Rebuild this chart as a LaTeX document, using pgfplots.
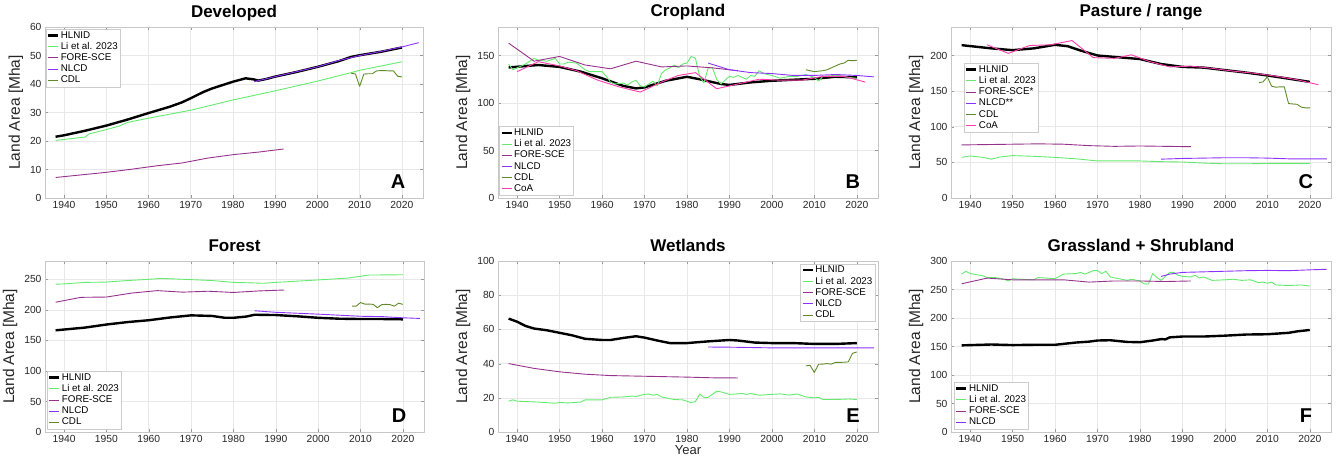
\documentclass[border=0pt]{standalone}
\usepackage{pgfplots}
\pgfplotsset{compat=1.18}
\usepackage{fontspec}
\setmainfont{Liberation Sans}

\definecolor{li}{RGB}{100,235,110}
\definecolor{fore}{RGB}{150,50,140}
\definecolor{nlcd}{RGB}{140,50,255}
\definecolor{cdl}{RGB}{95,140,40}
\definecolor{coa}{RGB}{255,60,170}

\pgfplotsset{
  panel/.style={
    scale only axis, width=379pt, height=171pt, anchor=south west,
    xmin=1935.5, xmax=2025, xtick={1940,1950,...,2020},
    grid=major, grid style={color=black!9, line width=0.5pt},
    axis line style={color=black!22},
    tick style={color=black!40}, tick align=inside, major tick length=3pt,
    ticklabel style={font=\fontsize{10.3}{12}\selectfont, text=black!85},
    /pgf/number format/assume math mode=true,
    /pgf/number format/1000 sep={},
    ylabel={Land Area [Mha]},
    ylabel style={font=\fontsize{15.5}{18}\selectfont, text=black!85},
    title style={font=\bfseries\fontsize{17}{20}\selectfont, at={(axis description cs:0.5,1)}, anchor=base, yshift=4pt},
    legend style={font=\fontsize{9.8}{11}\selectfont, draw=black!20, inner xsep=1pt, inner ysep=1pt,
      nodes={inner sep=1.4pt, text depth=0.15em}},
    legend cell align=left,
    legend image code/.code={\draw[#1] (0pt,0pt) -- (10pt,0pt);},
    every axis plot/.append style={line width=0.9pt, line join=round},
  },
}
\newcommand{\panellabel}[1]{\node[font=\bfseries\fontsize{20}{22}\selectfont] at (rel axis cs:0.934,0.094) {#1};}

\begin{document}
\begin{tikzpicture}
\useasboundingbox (0,0) rectangle (1338pt,461pt);

% A Developed
\begin{axis}[panel, at={(45pt,263pt)}, width=378pt, title={Developed}, ymin=0, ymax=60, ytick={0,10,...,60},
  legend style={at={(axis description cs:0.002,0.99)}, anchor=north west}]
\addplot[black, line width=2.4pt] coordinates {(1938,21.5)(1940,22)(1945,23.6)(1950,25.4)(1955,27.5)(1960,29.8)(1965,32)(1968,33.6)(1970,35)(1973,37.2)(1975,38.4)(1980,40.8)(1983,42)(1985,41.6)(1986,41.2)(1988,41.8)(1990,42.6)(1995,44.2)(2000,46)(2005,48)(2008,49.5)(2010,50.1)(2015,51.3)(2020,52.8)};
\addlegendentry{HLNID}
\addplot[li] coordinates {(1938,20.2)(1945,21.4)(1946,22.5)(1950,24)(1953,25.2)(1955,26.5)(1960,28)(1970,30.8)(1980,34.4)(1985,36)(1990,37.6)(2000,41)(2008,44)(2010,44.8)(2020,47.8)};
\addlegendentry{Li et al. 2023}
\addplot[fore] coordinates {(1938,7.2)(1944,8.1)(1950,9.0)(1956,10.1)(1962,11.3)(1968,12.3)(1974,14)(1980,15.2)(1986,16.1)(1992,17.2)};
\addlegendentry{FORE-SCE}
\addplot[nlcd] coordinates {(1985,40.8)(1990,42.6)(2000,46)(2005,48.2)(2010,50)(2015,51.4)(2020,53)(2024,54.5)};
\addlegendentry{NLCD}
\addplot[cdl] coordinates {(2008,43.8)(2009,43.5)(2010,39.2)(2011,43.5)(2012,43.6)(2013,43.6)(2014,44.6)(2015,44.7)(2016,44.7)(2017,44.6)(2018,44.6)(2019,42.7)(2020,42.5)};
\addlegendentry{CDL}
\panellabel{A}
\end{axis}

% B Cropland
\begin{axis}[panel, at={(498pt,263pt)}, width=380pt, title={Cropland}, ymin=0, ymax=180, ytick={0,50,100,150},
  legend style={at={(axis description cs:0.003,0.015)}, anchor=south west}]
\addplot[black, line width=2.4pt] coordinates {(1938,137.4)(1945,140)(1950,138)(1955,133)(1960,126)(1965,118)(1968,115.4)(1970,116.4)(1975,123.4)(1980,127.6)(1983,125)(1988,120)(1990,119)(1995,121.7)(2000,123.4)(2010,125.5)(2015,127.6)(2020,127)};
\addlegendentry{HLNID}
\addplot[li] coordinates {(1938,141)(1939,135)(1940,137)(1942,141)(1944,147)(1945,145)(1947,144)(1949,147)(1950,141)(1951,141)(1952,143)(1954,142)(1956,135)(1957,133)(1960,133)(1961,128)(1962,122)(1963,120)(1965,121)(1966,119)(1967,122)(1968,124)(1969,118)(1970,117)(1971,120)(1972,123)(1973,118)(1974,131)(1975,135)(1976,137)(1977,140)(1978,137)(1979,141)(1980,142)(1981,149)(1982,147)(1983,128)(1984,121)(1985,137)(1986,137)(1987,125)(1988,120)(1989,124)(1990,128)(1991,127)(1992,129)(1993,127)(1994,125)(1995,129)(1996,128)(1997,134)(1998,131)(2000,129)(2002,126)(2004,128)(2006,128)(2008,130)(2010,127)(2011,123)(2012,128)(2015,129)(2018,127)(2020,126)};
\addlegendentry{Li et al. 2023}
\addplot[fore] coordinates {(1938,163)(1944,144)(1950,149)(1956,140)(1962,136)(1968,144)(1974,138)(1980,139)(1986,137)(1992,134)};
\addlegendentry{FORE-SCE}
\addplot[nlcd] coordinates {(1985,142)(1990,135)(1995,132)(2000,131)(2005,129)(2010,129)(2015,130)(2020,129)(2024,127.5)};
\addlegendentry{NLCD}
\addplot[cdl] coordinates {(2008,135)(2010,133)(2012,134)(2013,135)(2014,137)(2015,139)(2016,141)(2017,142)(2018,145)(2019,144.5)(2020,145)};
\addlegendentry{CDL}
\addplot[coa] coordinates {(1940,133)(1945,143.5)(1950,139)(1954,134)(1959,124)(1964,117)(1969,111.5)(1974,122)(1978,129)(1982,132)(1987,115)(1992,120)(1997,125)(2002,124)(2007,124)(2012,128)(2017,128)(2022,122)};
\addlegendentry{CoA}
\panellabel{B}
\end{axis}

% C Pasture / range
\begin{axis}[panel, at={(951pt,263pt)}, width=380pt, title={Pasture / range}, ymin=0, ymax=240, ytick={0,50,...,200},
  legend style={at={(axis description cs:0.034,0.79)}, anchor=north west}]
\addplot[black, line width=2.4pt] coordinates {(1938,214.5)(1945,210)(1950,207.5)(1955,210)(1960,215)(1963,213)(1966,207)(1970,200)(1975,197.5)(1980,195)(1985,188)(1990,184)(1995,183)(2000,179.5)(2005,176)(2010,172)(2015,167.5)(2020,163)};
\addlegendentry{HLNID}
\addplot[li] coordinates {(1938,57)(1940,59)(1943,57)(1945,54.5)(1947,57.5)(1950,59.5)(1955,58.5)(1960,57)(1965,55)(1970,52)(1975,52)(1980,52)(1985,51)(1990,50.5)(1995,49)(2000,48)(2005,48)(2010,48.5)(2015,48.5)(2020,48.5)};
\addlegendentry{Li et al. 2023}
\addplot[fore] coordinates {(1938,74.5)(1944,75)(1950,75.5)(1956,76)(1962,75.5)(1968,73.5)(1974,72.5)(1980,73)(1986,72.5)(1992,72)};
\addlegendentry{FORE-SCE*}
\addplot[nlcd] coordinates {(1985,54.5)(1990,55.5)(2000,56.5)(2005,56.5)(2010,56)(2015,55)(2020,55)(2024,55)};
\addlegendentry{NLCD**}
\addplot[cdl] coordinates {(2008,162)(2009,163)(2010,170)(2011,157)(2012,155.5)(2013,156)(2014,156)(2015,132.5)(2016,132)(2017,131.5)(2018,127.5)(2019,126.5)(2020,126.5)};
\addlegendentry{CDL}
\addplot[coa] coordinates {(1944,215)(1949,203)(1954,214)(1959,215)(1964,221)(1969,197)(1974,196)(1978,201)(1982,192)(1987,184)(1992,185)(1997,182)(2002,178)(2007,175)(2012,171)(2017,166)(2022,159)};
\addlegendentry{CoA}
\panellabel{C}
\end{axis}

% D Forest
\begin{axis}[panel, at={(45pt,29pt)}, width=379pt, title={Forest}, ymin=0, ymax=280, ytick={0,50,...,250},
  legend style={at={(axis description cs:0.005,0.017)}, anchor=south west}]
\addplot[black, line width=2.4pt] coordinates {(1938,166.5)(1945,171)(1950,176)(1955,180)(1960,183)(1965,187.5)(1970,191)(1975,190)(1978,187)(1980,187)(1983,189)(1985,192)(1990,191.5)(1995,189.5)(2000,187)(2005,185.5)(2010,185)(2015,185)(2020,184.5)};
\addlegendentry{HLNID}
\addplot[li] coordinates {(1938,242)(1940,242.5)(1945,245)(1950,245.5)(1955,248)(1960,250)(1963,251.5)(1970,249.5)(1975,248)(1980,245)(1985,244)(1987,243.5)(1990,245)(2000,249)(2007,252)(2012,257)(2020,257.5)};
\addlegendentry{Li et al. 2023}
\addplot[fore] coordinates {(1938,212.5)(1944,220.5)(1950,221)(1956,227.5)(1962,231.5)(1968,229)(1974,230.5)(1980,228.5)(1986,231)(1992,232.5)};
\addlegendentry{FORE-SCE}
\addplot[nlcd] coordinates {(1985,198.5)(1990,196)(2000,193)(2010,189.5)(2015,189)(2020,187)(2024,186)};
\addlegendentry{NLCD}
\addplot[cdl] coordinates {(2008,206)(2009,206)(2010,212)(2011,209.5)(2012,209.5)(2013,209)(2014,203.5)(2015,208.5)(2016,209)(2017,208.5)(2018,206)(2019,211)(2020,209)};
\addlegendentry{CDL}
\panellabel{D}
\end{axis}

% E Wetlands
\begin{axis}[panel, at={(498pt,29pt)}, width=380pt, title={Wetlands}, ymin=0, ymax=100, ytick={0,20,...,100},
  xlabel={Year}, xlabel style={font=\fontsize{13}{15}\selectfont, text=black!85, yshift=4pt},
  legend style={at={(axis description cs:0.992,0.985)}, anchor=north east}]
\addplot[black, line width=2.4pt] coordinates {(1938,66.3)(1940,64.5)(1942,62)(1944,60.5)(1947,59.5)(1950,58)(1953,56.5)(1956,54.5)(1960,53.8)(1962,53.8)(1965,55)(1968,56)(1970,55.2)(1973,53.5)(1976,52)(1980,52)(1985,53)(1990,53.8)(1992,53.5)(1996,52.3)(2000,52)(2005,52)(2010,51.5)(2015,51.5)(2020,52)};
\addlegendentry{HLNID}
\addplot[li] coordinates {(1938,18)(1939,18.8)(1940,18)(1945,17.5)(1949,16.8)(1950,17.3)(1952,17)(1955,17.5)(1956,18.8)(1960,18.8)(1962,20.3)(1965,20.5)(1967,21)(1968,20.8)(1970,22)(1971,22.2)(1972,21.5)(1973,22)(1974,20.5)(1977,19)(1979,18.8)(1981,17.2)(1982,17.8)(1983,22.2)(1984,20.2)(1985,20.3)(1987,23.8)(1988,23.5)(1990,22)(1993,22.5)(1994,22)(1995,22.5)(1997,21.5)(2000,22)(2002,22.3)(2004,21.6)(2006,22.2)(2008,20.5)(2010,20)(2011,20.3)(2012,19)(2015,19)(2018,19.3)(2020,19)};
\addlegendentry{Li et al. 2023}
\addplot[fore] coordinates {(1938,40)(1944,37.2)(1950,35.2)(1956,33.8)(1962,33)(1968,32.7)(1974,32.4)(1980,32.1)(1986,31.7)(1992,31.6)};
\addlegendentry{FORE-SCE}
\addplot[nlcd] coordinates {(1985,49.7)(1990,49.6)(2000,49.2)(2010,49.2)(2020,49.2)(2024,49.2)};
\addlegendentry{NLCD}
\addplot[cdl] coordinates {(2008,38.7)(2009,39)(2010,34.8)(2011,39.6)(2012,39.7)(2013,40)(2014,39.7)(2015,40.7)(2016,40.7)(2017,40.8)(2018,41)(2019,46)(2020,46.8)};
\addlegendentry{CDL}
\panellabel{E}
\end{axis}

% F Grassland + Shrubland
\begin{axis}[panel, at={(951pt,29pt)}, width=380pt, title={Grassland + Shrubland}, ymin=0, ymax=300, ytick={0,50,...,300},
  legend style={at={(axis description cs:0.008,0.017)}, anchor=south west}]
\addplot[black, line width=2.4pt] coordinates {(1938,152)(1945,153.5)(1950,152.5)(1955,153)(1960,153)(1965,157)(1968,158.5)(1970,160.5)(1973,161)(1977,158)(1980,157.5)(1983,160.5)(1985,163)(1986,162.5)(1987,166)(1990,167.5)(1995,167.5)(2000,169)(2005,171)(2010,171.5)(2015,174)(2017,176.5)(2020,179)};
\addlegendentry{HLNID}
\addplot[li] coordinates {(1938,277)(1939,282)(1940,278)(1943,274)(1944,271)(1946,271)(1948,268)(1949,265)(1950,269)(1952,268)(1955,267)(1956,271)(1958,270)(1960,269)(1962,277)(1965,278)(1966,280)(1967,277)(1969,283)(1970,283)(1971,278)(1972,282)(1973,272)(1975,269)(1977,266)(1978,268)(1980,265)(1981,260)(1982,259.5)(1983,278)(1984,271)(1985,266)(1987,280)(1988,280)(1989,275)(1990,273)(1992,272)(1993,275)(1994,270)(1995,272)(1997,266)(2000,267)(2002,268)(2004,266)(2006,267)(2008,262)(2009,263)(2010,261)(2011,263)(2012,258)(2015,257)(2018,258)(2020,256)};
\addlegendentry{Li et al. 2023}
\addplot[fore] coordinates {(1938,260)(1944,270)(1950,267)(1956,267)(1962,267)(1968,263)(1974,265)(1980,265)(1986,264)(1992,265)};
\addlegendentry{FORE-SCE}
\addplot[nlcd] coordinates {(1985,273)(1987,277)(1990,280)(2000,282)(2005,283)(2010,283.5)(2015,283)(2020,284.5)(2024,285.5)};
\addlegendentry{NLCD}
\panellabel{F}
\end{axis}
\end{tikzpicture}
\end{document}
